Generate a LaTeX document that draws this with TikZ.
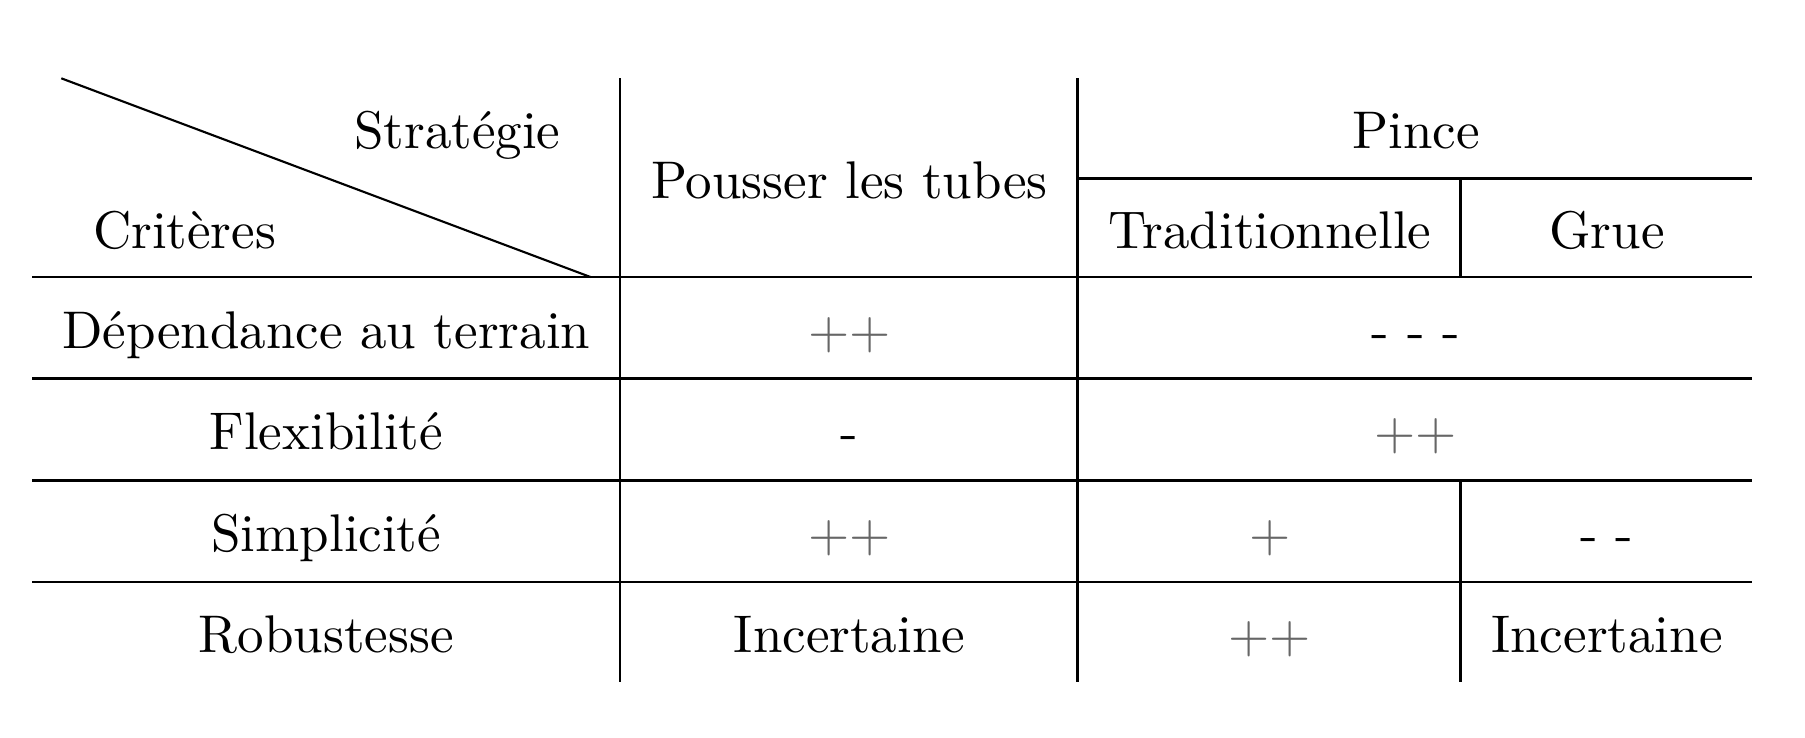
\documentclass[tikz,border=0pt]{standalone}

\tikzset{signe/.style={text=black!60}}

\begin{document}
\begin{tikzpicture}[x=0.1887pt, y=-0.1887pt, every node/.style={inner sep=0pt, anchor=base}]
\useasboundingbox (0,0) rectangle (1805,737);

\draw (61.3,78.3) -- (590.5,277);
\foreach \x in {620.3,1077.5} \draw (\x,78.3) -- (\x,682);
\draw (1460.5,178.5) -- (1460.5,277);
\draw (1460.5,480.5) -- (1460.5,682);
\draw (1077.5,178.5) -- (1752.3,178.5);
\foreach \y in {277,378.5,480.5,581.7} \draw (32.3,\y) -- (1752.3,\y);

\node [anchor=base east] (strat) at (561.5,148.3) {Stratégie};
\node [anchor=base west] (crit) at (92,248.5) {Critères};
\node (pousser) at (849.5,198.5) {Pousser les tubes};
\node (pince) at (1416,148.3) {Pince};
\node (trad) at (1270,248.5) {Traditionnelle};
\node (grue) at (1607,248.5) {Grue};

\foreach \y/\n/\t in {
348/dep/{Dépendance au terrain},
449.5/flex/{Flexibilité},
551.5/simp/{Simplicité},
652.7/rob/{Robustesse}}
\node (\n) at (326.3,\y) {\t};

\node [signe] (dep-p) at (849.5,348) {$++$};
\node (dep-c) at (1416,348) {- - -};
\node (flex-p) at (849.5,449.5) {-};
\node [signe] (flex-c) at (1416,449.5) {$++$};
\node [signe] (simp-p) at (849.5,551.5) {$++$};
\node [signe] (simp-t) at (1270,551.5) {$+$};
\node (simp-g) at (1607,551.5) {- -};
\node (rob-p) at (849.5,652.7) {Incertaine};
\node [signe] (rob-t) at (1270,652.7) {$++$};
\node (rob-g) at (1607,652.7) {Incertaine};

\end{tikzpicture}
\end{document}
